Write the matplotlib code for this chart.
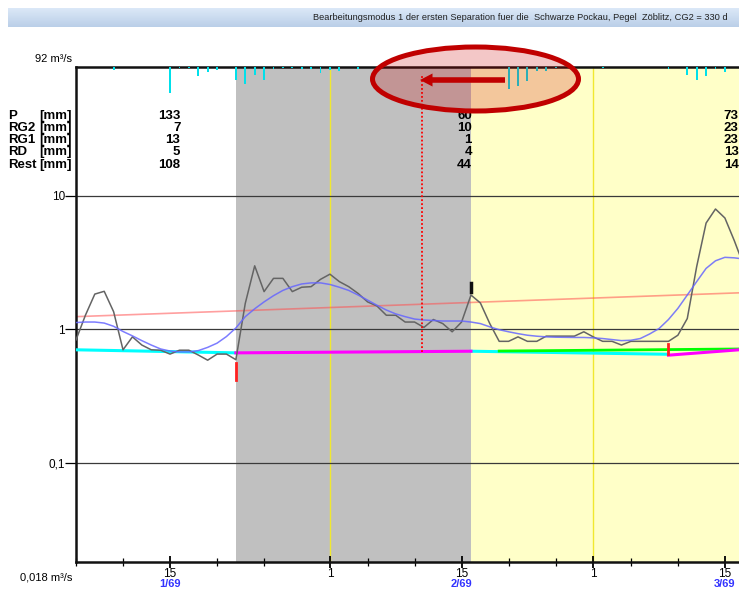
import matplotlib
matplotlib.use('Agg')
import matplotlib.pyplot as plt
import matplotlib.dates as mdates
import matplotlib.transforms as mtransforms
from matplotlib.patches import Ellipse, FancyArrowPatch, ArrowStyle
from matplotlib import font_manager
import numpy as np
import pandas as pd

plt.rcParams['font.family'] = ['Liberation Sans', 'DejaVu Sans']

# ---- data ----
start = pd.Timestamp('1969-01-05')

# observed daily discharge [m3/s], day 0 = 5 Jan 1969
q_obs = [0.83, 1.27, 1.83, 1.92, 1.35, 0.70, 0.875, 0.76, 0.70, 0.695,
         0.65, 0.695, 0.695, 0.64, 0.585, 0.65, 0.65, 0.59, 1.56, 2.98,
         1.91, 2.40, 2.40, 1.91, 2.06, 2.08, 2.36, 2.58, 2.27, 2.08,
         1.85, 1.60, 1.49, 1.27, 1.27, 1.13, 1.13, 1.03, 1.18, 1.10,
         0.955, 1.13, 1.80, 1.57, 1.10, 0.81, 0.81, 0.875, 0.81, 0.81,
         0.886, 0.886, 0.886, 0.886, 0.955, 0.875, 0.81, 0.81, 0.76, 0.81,
         0.81, 0.81, 0.81, 0.81, 0.90, 1.20, 2.94, 6.23, 7.94, 6.8,
         4.6, 3.0]

# smoothed discharge
q_smooth = [1.12, 1.13, 1.13, 1.11, 1.05, 0.96, 0.89, 0.82, 0.76, 0.71,
            0.685, 0.675, 0.675, 0.69, 0.73, 0.785, 0.88, 1.02, 1.24, 1.42,
            1.60, 1.78, 1.95, 2.08, 2.18, 2.22, 2.22, 2.16, 2.06, 1.95,
            1.80, 1.65, 1.51, 1.39, 1.30, 1.24, 1.19, 1.17, 1.16, 1.15,
            1.15, 1.15, 1.13, 1.10, 1.04, 0.99, 0.955, 0.925, 0.90, 0.885,
            0.875, 0.87, 0.868, 0.866, 0.866, 0.86, 0.85, 0.835, 0.82, 0.825,
            0.85, 0.92, 1.01, 1.18, 1.43, 1.80, 2.27, 2.85, 3.25, 3.45,
            3.42, 3.35]

# precipitation bars (day, mm)
p_days = [4, 10, 11, 12, 13, 14, 15, 17, 18, 19, 20, 21, 22, 23, 24, 25, 26,
          27, 28, 30, 46, 47, 48, 49, 50, 51, 56, 63, 65, 66, 67, 68, 69]
p_mm = [1.7, 13.1, 0.5, 0.5, 4.7, 2.7, 1.4, 6.8, 8.6, 3.9, 6.8, 0.9, 0.5,
        0.5, 0.9, 0.9, 3.0, 1.4, 1.9, 0.9, 11.1, 9.8, 7.3, 1.9, 2.2, 0.5,
        0.5, 0.9, 3.9, 6.8, 4.7, 0.9, 2.5]

# trend line and base flow segments (day, m3/s)
trend_days, trend_q = [0, 70.5], [1.24, 1.87]
cyan1_days, cyan1_q = [0, 17], [0.70, 0.664]
mag1_days, mag1_q = [17, 42], [0.664, 0.683]
cyan2_days, cyan2_q = [42, 63], [0.683, 0.648]
mag2_days, mag2_q = [63, 70.5], [0.638, 0.70]
green_days, green_q = [45, 70.5], [0.685, 0.71]

# separation periods
period_bounds = [17, 42]
end_day = 70.5
cut_day = 36.8
month_starts = ['1969-02-01', '1969-03-01']
month_mid = ['1969-01-15', '1969-02-15', '1969-03-15']

row_labels = ['P', 'RG2', 'RG1', 'RD', 'Rest']
col_days = [11.1, 42.1, 70.45]
table_vals = [[133, 7, 13, 5, 108],
              [60, 10, 1, 4, 44],
              [73, 23, 23, 13, 14]]

title = 'Bearbeitungsmodus 1 der ersten Separation fuer die  Schwarze Pockau, Pegel  Zöblitz, CG2 = 330 d'

# narrow font for the title bar if present
names = {f.name for f in font_manager.fontManager.ttflist}
if 'Liberation Sans Narrow' in names:
    title_font, title_size = ['Liberation Sans Narrow', 'DejaVu Sans'], 8
else:
    title_font, title_size = ['Liberation Sans', 'DejaVu Sans'], 6.7

x0 = mdates.date2num(start)
def X(d):
    return x0 + np.asarray(d, dtype=float)

W, H = 739, 591
fig = plt.figure(figsize=(W / 100, H / 100), dpi=100)
fig.patch.set_facecolor('white')

# title bar
tb = fig.add_axes([8 / W, 1 - 27 / H, 731 / W, 19 / H])
grad = np.linspace(0, 1, 50).reshape(-1, 1)
c_top = np.array([0.86, 0.91, 0.97])
c_bot = np.array([0.73, 0.81, 0.91])
img = c_top + (c_bot - c_top) * grad[:, :, None]
tb.imshow(img, aspect='auto', extent=[0, 1, 0, 1])
tb.set_axis_off()
fig.text(728 / W, 1 - 17.5 / H, title, ha='right', va='center', fontsize=title_size,
         color='#222222', family=title_font)

ax = fig.add_axes([76 / W, 1 - 562 / H, (W - 76) / W, 495 / H])
ax.set_yscale('log')
ax.set_ylim(0.018, 92)
ax.set_xlim(X(0), X(end_day))

# shading
ax.axvspan(X(period_bounds[0]), X(period_bounds[1]), color='#c0c0c0', lw=0, zorder=0)
ax.axvspan(X(period_bounds[1]), X(end_day), color='#ffffc8', lw=0, zorder=0)
for m in month_starts:
    ax.axvline(mdates.date2num(pd.Timestamp(m)), color='#f0e830', lw=1.0, zorder=1)

for yv in [0.1, 1, 10]:
    ax.axhline(yv, color='#3a3a3a', lw=0.9, zorder=1)

days_all = np.arange(len(q_obs))
ax.plot(X(trend_days), trend_q, color='#ff5050', alpha=0.55, lw=1.2, zorder=2)
ax.plot(X(cyan1_days), cyan1_q, color='#00ffff', lw=2.2, zorder=3)
ax.plot(X(cyan2_days), cyan2_q, color='#00ffff', lw=2.2, zorder=3)
ax.plot(X(green_days), green_q, color='#00ff00', lw=2.0, zorder=3)
ax.plot(X(mag1_days), mag1_q, color='#ff00ff', lw=2.2, zorder=4)
ax.plot(X(mag2_days), mag2_q, color='#ff00ff', lw=2.2, zorder=4)
ax.plot(X(days_all), q_obs, color='#646464', lw=1.1, zorder=5)
ax.plot(X(np.arange(len(q_smooth))), q_smooth, color='#6666ff', alpha=0.85, lw=1.1, zorder=5)

# markers at separation points
ax.plot(X([17, 17]), [0.555, 0.414], color='#ff2020', lw=2, zorder=6)
ax.plot(X([63, 63]), [0.767, 0.656], color='#ff2020', lw=2, zorder=6)
ax.plot(X([42, 42]), [2.23, 1.9], color='#111111', lw=2.5, zorder=6)
ax.plot(X([cut_day, cut_day]), [0.678, 82], color='#ff0000', lw=1.3, ls=(0, (1, 1.2)), zorder=6)

# axes style
for s in ['left', 'bottom', 'top']:
    ax.spines[s].set_linewidth(1.8)
    ax.spines[s].set_color('#111111')
ax.spines['right'].set_visible(False)
ax.set_yticks([0.1, 1, 10])
ax.set_yticklabels(['0,1', '1', '10'], fontsize=8.5)
ax.yaxis.set_minor_locator(matplotlib.ticker.NullLocator())
ax.tick_params(axis='y', direction='out', length=8, width=0.9, pad=0)

ax.xaxis.set_major_locator(mdates.DayLocator(bymonthday=[1, 15]))
ax.xaxis.set_minor_locator(mdates.DayLocator(bymonthday=[5, 10, 20, 25]))
ax.xaxis.set_major_formatter(matplotlib.ticker.FuncFormatter(
    lambda v, p: str(mdates.num2date(v).day)))
ax.tick_params(axis='x', which='major', direction='inout', length=9, width=1.3, labelsize=8.5, pad=0)
ax.tick_params(axis='x', which='minor', direction='inout', length=6, width=0.9)

yfig = mtransforms.blended_transform_factory(ax.transData, fig.transFigure)
for m in month_mid:
    t = pd.Timestamp(m)
    ax.text(mdates.date2num(t), 1 - 584 / H, f'{t.month}/{t.strftime("%y")}',
            transform=yfig, ha='center', va='center', fontsize=8, fontweight='bold',
            color='#3333ff')

fig.text(72 / W, 1 - 58.5 / H, '92 m³/s', ha='right', va='center', fontsize=8)
fig.text(72 / W, 1 - 577 / H, '0,018 m³/s', ha='right', va='center', fontsize=8)

# precipitation (hanging from the top)
ax2 = ax.twinx()
ax2.set_ylim(250, 0)
ax2.bar(X(p_days), p_mm, width=0.2, color='#00e0ea', zorder=3)
ax2.set_axis_off()

# table
row_y = [115.7, 127.8, 140, 152.2, 164.6]
for lab, yy in zip(row_labels, row_y):
    fig.text(8 / W, 1 - yy / H, lab, ha='left', va='center', fontsize=9.5, fontweight='bold')
    fig.text(72 / W, 1 - yy / H, '[mm]', ha='right', va='center', fontsize=9.5, fontweight='bold')
for cd, vals in zip(col_days, table_vals):
    for v, yy in zip(vals, row_y):
        ax.text(X(cd), 1 - yy / H, str(v), transform=yfig, ha='right', va='center',
                fontsize=9.5, fontweight='bold', zorder=7)

# highlight ellipse and arrow
ell = Ellipse((475.5 / W, 1 - 79 / H), 206 / W, 64 / H, transform=fig.transFigure,
              facecolor=(0.8, 0, 0, 0.22), edgecolor='#c00000', lw=3.6, zorder=20)
fig.add_artist(ell)
arr = FancyArrowPatch((505 / W, 1 - 80 / H), (420 / W, 1 - 80 / H), transform=fig.transFigure,
                      arrowstyle=ArrowStyle.Simple(head_length=0.45, head_width=0.47, tail_width=0.2),
                      mutation_scale=20, color='#c00000', lw=0, shrinkA=0, shrinkB=0, zorder=21)
fig.add_artist(arr)

fig.savefig('out.png', dpi=100)
